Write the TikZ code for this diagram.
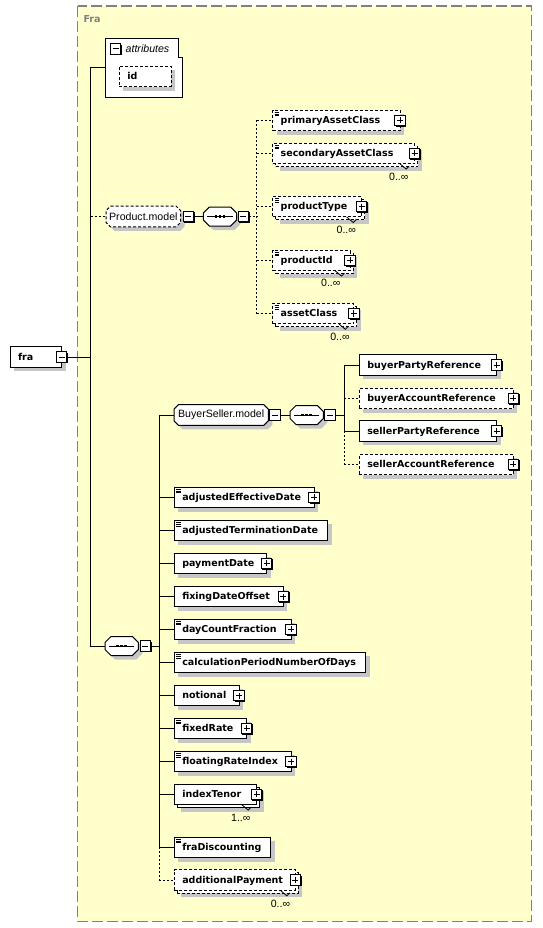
\documentclass[tikz,border=0pt]{standalone}
\usepackage{fontspec}
\newfontfamily\arialf{Liberation Sans}
\newfontfamily\verdf{DejaVu Sans}
\usetikzlibrary{shadows}
\definecolor{bgyellow}{RGB}{255,255,204}
\definecolor{shgray}{RGB}{198,198,198}
\definecolor{framegray}{RGB}{128,128,128}
\newcommand\elfont{\verdf\bfseries\fontsize{9.5}{11}\selectfont}
\newcommand\lblfont{\arialf\fontsize{10.6}{12}\selectfont}
% chamfered outline with shadow: x, ytop, w, h, chamfer, options
\newcommand\chamf[6]{%
  \fill[shgray] (#1+#5+4,#2+4) -- (#1+#3-#5+4,#2+4) -- (#1+#3+4,#2+#5+4) -- (#1+#3+4,#2+#4-#5+4) -- (#1+#3-#5+4,#2+#4+4) -- (#1+#5+4,#2+#4+4) -- (#1+4,#2+#4-#5+4) -- (#1+4,#2+#5+4) -- cycle;
  \draw[fill=white,line width=1pt,#6] (#1+#5,#2) -- (#1+#3-#5,#2) -- (#1+#3,#2+#5) -- (#1+#3,#2+#4-#5) -- (#1+#3-#5,#2+#4) -- (#1+#5,#2+#4) -- (#1,#2+#4-#5) -- (#1,#2+#5) -- cycle;
}
\newcommand\seqdots[3]{%
  \draw[line width=1pt] (#1+4,#2) -- (#1+#3-4,#2);
  \fill (#1+#3/2-5.3,#2-1.3) rectangle ++(2.6,2.6);
  \fill (#1+#3/2-1.3,#2-1.3) rectangle ++(2.6,2.6);
  \fill (#1+#3/2+2.7,#2-1.3) rectangle ++(2.6,2.6);
}
\newcommand\notch[2]{\draw[line width=0.8pt] (#1-6.5,#2) -- (#1,#2+5.5) -- (#1+3,#2+2.5);}
\tikzset{
  conn/.style={line width=1pt},
  optl/.style={dash pattern=on 2pt off 2pt},
  opt/.style={dash pattern=on 3pt off 2pt},
  el/.style={draw, fill=white, line width=1pt, minimum height=20.5pt, inner xsep=8pt, inner ysep=0pt,
    outer sep=0pt, anchor=west, align=left, font=\elfont, text height=8pt, text depth=1.5pt},
  sh/.style={drop shadow={shadow xshift=4pt, shadow yshift=-4pt, fill=shgray, opacity=1}},
  multi/.style={drop shadow={shadow xshift=7pt, shadow yshift=-7pt, fill=shgray, opacity=1},
    copy shadow={shadow xshift=3pt, shadow yshift=-3pt, draw=black, fill=white, line width=1pt, #1}},
  multi/.default={},
  doc/.style={path picture={
    \draw[solid,line width=0.6pt] ([xshift=1.8pt,yshift=-2pt]path picture bounding box.north west) -- ++(4.5pt,0pt);
    \draw[solid,line width=0.6pt] ([xshift=1.8pt,yshift=-3.8pt]path picture bounding box.north west) -- ++(4.5pt,0pt);
    \draw[solid,line width=0.6pt] ([xshift=1.8pt,yshift=-5.6pt]path picture bounding box.north west) -- ++(4.5pt,0pt);}},
  pmbox/.style={draw, fill=white, solid, line width=1pt, minimum size=10.5pt, inner sep=0pt, outer sep=0pt,
    drop shadow={shadow xshift=1pt, shadow yshift=-1pt, fill=black, opacity=1}},
  plusb/.style={pmbox, path picture={
    \draw[line width=1pt] ([xshift=2.2pt]path picture bounding box.west) -- ([xshift=-2.2pt]path picture bounding box.east);
    \draw[line width=1pt] ([yshift=-2.2pt]path picture bounding box.north) -- ([yshift=2.2pt]path picture bounding box.south);}},
  minusb/.style={pmbox, path picture={
    \draw[line width=1pt] ([xshift=2.2pt]path picture bounding box.west) -- ([xshift=-2.2pt]path picture bounding box.east);}},
  seqn/.style={minimum width=33.4pt, minimum height=19pt, inner sep=0pt, outer sep=0pt},
  grp/.style={font=\lblfont, inner sep=0pt, outer sep=0pt},
  lbl/.style={font=\lblfont, inner sep=0pt},
}
\begin{document}
\begin{tikzpicture}[x=1pt,y=-1pt]
\useasboundingbox (0,0) rectangle (542,928);
\fill[white] (0,0) rectangle (542,928);
\draw[framegray, line width=1.5pt, dash pattern=on 11pt off 4pt, fill=bgyellow] (77.5,6) rectangle (531.5,921.5);
\node[anchor=west, font=\verdf\bfseries\fontsize{9.6}{11}\selectfont, text=framegray, inner sep=0pt] (title) at (83.3,19) {Fra};

% root
\node[el,sh,text width=35.7pt] (fra) at (10,357) {fra};
\node[minusb] (fraM) at (fra.east) {};

% attributes
\node[minimum width=77.4pt, minimum height=59pt, anchor=north west, inner sep=0pt, outer sep=0pt] (attr) at (105.3,38.3) {};
\draw[fill=white, line width=1pt] (attr.north west) -- ([xshift=-4.5pt]attr.north east) -- ([xshift=-4.5pt,yshift=-19pt]attr.north east) -- ([yshift=-19pt]attr.north east) -- (attr.south east) -- (attr.south west) -- cycle;
\node[minusb] (attrM) at (115.7,48.8) {};
\node[anchor=west, font=\arialf\itshape\fontsize{10.6}{12}\selectfont, inner sep=0pt] (attrT) at (125.5,48.3) {attributes};
\node[el,sh,opt,text width=35.7pt] (id) at (119.3,76.3) {id};

% Product.model group
\chamf{106}{206.2}{74.7}{20.6}{4.5}{opt}
\node[grp, minimum width=74.7pt, minimum height=20.6pt] (pm) at (143.35,216.5) {Product.model};
\node[minusb] (pmM) at (188.3,216.5) {};
\chamf{203.3}{207}{33.4}{19}{6}{}
\node[seqn] (seqP) at (220,216.5) {};
\seqdots{203.3}{216.5}{33.4}
\node[minusb] (seqPM) at (243.3,216.5) {};
\coordinate (bP) at (256.7,216.5);

\node[el,sh,opt,doc,text width=111.3pt] (pac) at (272.7,120.3) {primaryAssetClass};
\node[plusb] (pacP) at (pac.east) {};
\node[el,multi=opt,opt,doc,text width=126pt] (sac) at (272.7,153.3) {secondaryAssetClass};
\node[plusb] (sacP) at (sac.east) {};
\notch{406.2}{163.6}
\node[lbl] (sacL) at (398.8,176.5) {0..∞};
\node[el,multi=opt,opt,doc,text width=73pt] (pt) at (272.7,206.7) {productType};
\node[plusb] (ptP) at (pt.east) {};
\notch{353.2}{217}
\node[lbl] (ptL) at (346.3,230) {0..∞};
\node[el,multi=opt,opt,doc,text width=61.3pt] (pid) at (272.7,260.3) {productId};
\node[plusb] (pidP) at (pid.east) {};
\notch{341.5}{270.6}
\node[lbl] (pidL) at (330.8,283) {0..∞};
\node[el,multi=opt,opt,doc,text width=65.1pt] (ac) at (272.7,313.5) {assetClass};
\node[plusb] (acP) at (ac.east) {};
\notch{345.3}{323.8}
\node[lbl] (acL) at (340,336.5) {0..∞};

% BuyerSeller.model group
\chamf{174}{404.7}{94.3}{20.6}{4.5}{}
\node[grp, minimum width=94.3pt, minimum height=20.6pt] (bs) at (221.15,415) {BuyerSeller.model};
\node[minusb] (bsM) at (275,415) {};
\chamf{290}{405.5}{33.4}{19}{6}{}
\node[seqn] (seqB) at (306.7,415) {};
\seqdots{290}{415}{33.4}
\node[minusb] (seqBM) at (330,415) {};
\coordinate (bB) at (344.3,415);

\node[el,sh,text width=121.4pt] (bpr) at (359.3,365) {buyerPartyReference};
\node[plusb] (bprP) at (bpr.east) {};
\node[el,sh,opt,text width=138pt] (bar) at (359.3,398.3) {buyerAccountReference};
\node[plusb] (barP) at (bar.east) {};
\node[el,sh,text width=121.4pt] (spr) at (359.3,431) {sellerPartyReference};
\node[plusb] (sprP) at (spr.east) {};
\node[el,sh,opt,text width=138pt] (sar) at (359.3,464.3) {sellerAccountReference};
\node[plusb] (sarP) at (sar.east) {};

% main sequence
\chamf{105}{636.5}{33.4}{19}{6}{}
\node[seqn] (seqM) at (121.7,646) {};
\seqdots{105}{646}{33.4}
\node[minusb] (seqMM) at (145.3,646) {};
\coordinate (bM) at (159.3,646);
\coordinate (tb) at (90.7,646);

\node[el,sh,doc,text width=123.7pt] (aed) at (174.3,497.3) {adjustedEffectiveDate};
\node[plusb] (aedP) at (aed.east) {};
\node[el,sh,doc,text width=137.4pt] (atd) at (174.3,530.7) {adjustedTerminationDate};
\node[el,sh,text width=76.4pt] (pd) at (174.3,563.3) {paymentDate};
\node[plusb] (pdP) at (pd.east) {};
\node[el,sh,text width=93pt] (fdo) at (174.3,596.7) {fixingDateOffset};
\node[plusb] (fdoP) at (fdo.east) {};
\node[el,sh,doc,text width=100.7pt] (dcf) at (174.3,629.3) {dayCountFraction};
\node[plusb] (dcfP) at (dcf.east) {};
\node[el,sh,doc,text width=175.4pt] (cpn) at (174.3,662.7) {calculationPeriodNumberOfDays};
\node[el,sh,text width=48.7pt] (notl) at (174.3,695.7) {notional};
\node[plusb] (notlP) at (notl.east) {};
\node[el,sh,doc,text width=56.4pt] (fr) at (174.3,728.3) {fixedRate};
\node[plusb] (frP) at (fr.east) {};
\node[el,sh,doc,text width=100.7pt] (fri) at (174.3,761.7) {floatingRateIndex};
\node[plusb] (friP) at (fri.east) {};
\node[el,multi,text width=66.4pt] (it) at (174.3,794.3) {indexTenor};
\node[plusb] (itP) at (it.east) {};
\notch{248.2}{804.6}
\node[lbl] (itL) at (240.8,818) {1..∞};
\node[el,sh,doc,text width=80.4pt] (frd) at (174.3,847.3) {fraDiscounting};
\node[el,multi=opt,opt,text width=105pt] (adp) at (174.3,880) {additionalPayment};
\node[plusb] (adpP) at (adp.east) {};
\notch{286.8}{890.3}
\node[lbl] (adpL) at (280.5,904) {0..∞};

% connectors
\draw[conn] (attr.west) -| (tb) -- (seqM.west);
\draw[conn] (fraM.east) -- (fraM.east -| tb);
\draw[conn,optl] (tb |- pm.west) -- (pm.west);
\draw[conn] (pmM.east) -- (seqP.west);
\draw[conn,optl] (seqPM.east) -- (bP);
\draw[conn,optl] (bP |- pac.west) -- (bP |- ac.west);
\foreach \n in {pac,sac,pt,pid,ac} {\draw[conn,optl] (bP |- \n.west) -- (\n.west);}

\draw[conn] (bM |- bs.west) -- (bs.west);
\draw[conn] (bsM.east) -- (seqB.west);
\draw[conn] (seqBM.east) -- (bB);
\draw[conn] (bB |- bpr.west) -- (bB |- spr.west);
\draw[conn,optl] (bB |- spr.west) -- (bB |- sar.west);
\draw[conn] (bB |- bpr.west) -- (bpr.west);
\draw[conn,optl] (bB |- bar.west) -- (bar.west);
\draw[conn] (bB |- spr.west) -- (spr.west);
\draw[conn,optl] (bB |- sar.west) -- (sar.west);

\draw[conn] (seqMM.east) -- (bM);
\draw[conn] (bM |- bs.west) -- (bM |- frd.west);
\draw[conn,optl] (bM |- frd.west) -- (bM |- adp.west) -- (adp.west);
\foreach \n in {aed,atd,pd,fdo,dcf,cpn,notl,fr,fri,it,frd} {\draw[conn] (bM |- \n.west) -- (\n.west);}
\end{tikzpicture}
\end{document}
